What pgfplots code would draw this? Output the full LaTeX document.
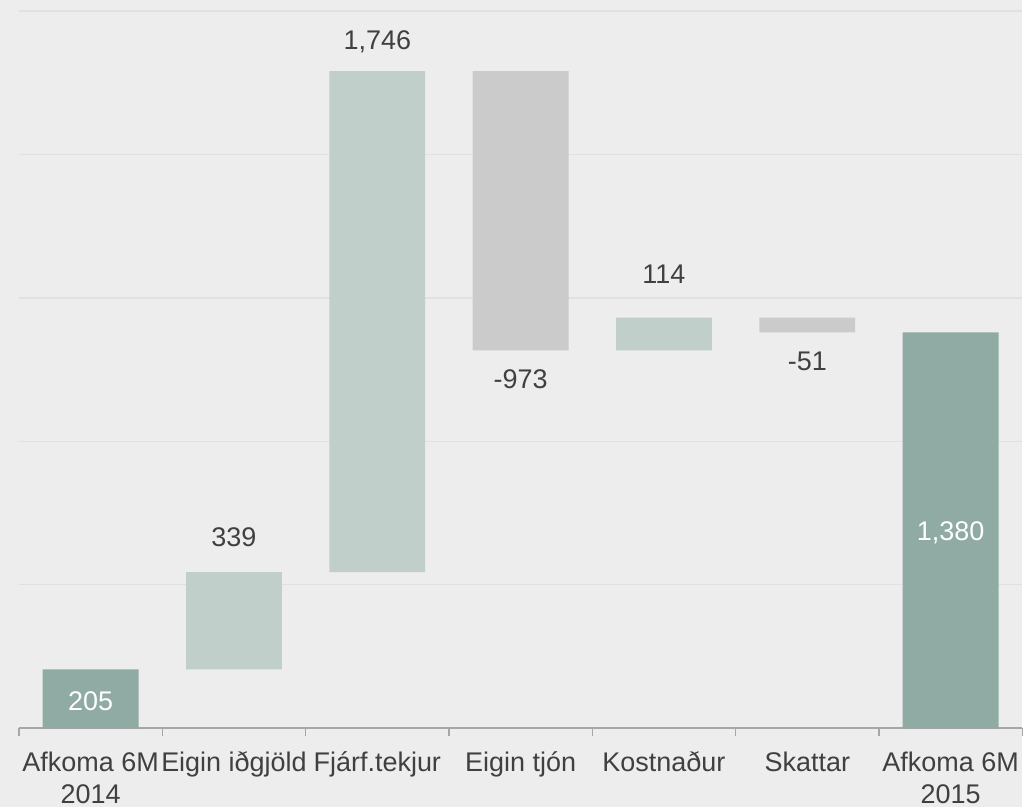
\documentclass[border=0pt]{standalone}
\usepackage{pgfplots}
\pgfplotsset{compat=1.18}
\usepackage{fontspec}
\setmainfont{Liberation Sans}
\definecolor{bg}{HTML}{EDEDED}
\definecolor{gridc}{HTML}{E1E1E1}
\definecolor{axisc}{HTML}{A6A6A6}
\definecolor{darkbar}{HTML}{90ABA3}
\definecolor{lightbar}{HTML}{C0CFCA}
\definecolor{greybar}{HTML}{CBCBCB}
\definecolor{textc}{HTML}{404040}
\begin{document}
\begin{tikzpicture}
\fill[bg] (0,0) rectangle (767.25pt,606pt);
\begin{axis}[
  at={(14.25pt,59.25pt)}, anchor=south west,
  scale only axis, width=753.4pt, height=538.5pt,
  xmin=-0.5, xmax=6.5, ymin=0, ymax=2500,
  ybar stacked, bar width=72pt,
  axis x line*=bottom, axis y line*=left,
  x axis line style={color=axisc, line width=1.1pt},
  y axis line style={draw=none},
  ytick={0,500,...,2500}, yticklabel=\empty,
  ytick style={draw=none},
  ymajorgrids, grid style={color=gridc, line width=1.1pt},
  xtick={0,...,6},
  xticklabels={{Afkoma 6M\\2014},{Eigin iðgjöld},{Fjárf.tekjur},{Eigin tjón},{Kostnaður},{Skattar},{Afkoma 6M\\2015}},
  minor xtick={-0.5,0.5,...,6.5},
  tick align=outside,
  minor tick length=6pt, major tick length=0pt,
  xtick style={color=axisc, line width=1pt},
  xticklabel style={font=\fontsize{20.25}{24}\selectfont, text=textc, align=center, anchor=north, inner sep=0pt, yshift=-17.7pt},
  clip=false,
]
\addplot[draw=none, fill=none] coordinates {(0,0) (1,205) (2,544) (3,1317) (4,1317) (5,1380) (6,0)};
\addplot[draw=none, fill=darkbar] coordinates {(0,205) (1,0) (2,0) (3,0) (4,0) (5,0) (6,1380)};
\addplot[draw=none, fill=lightbar] coordinates {(0,0) (1,339) (2,1746) (3,0) (4,114) (5,0) (6,0)};
\addplot[draw=none, fill=greybar] coordinates {(0,0) (1,0) (2,0) (3,973) (4,0) (5,51) (6,0)};
\coordinate (l0) at (axis cs:0,63);
\coordinate (l1) at (axis cs:1,634);
\coordinate (l2) at (axis cs:2,2364);
\coordinate (l3) at (axis cs:3,1184);
\coordinate (l4) at (axis cs:4,1549);
\coordinate (l5) at (axis cs:5,1246);
\coordinate (l6) at (axis cs:6,654);
\end{axis}
\node[font=\fontsize{20.25}{24}\selectfont, anchor=base, inner sep=0pt, text=white] at (l0) {205};
\node[font=\fontsize{20.25}{24}\selectfont, anchor=base, inner sep=0pt, text=textc] at (l1) {339};
\node[font=\fontsize{20.25}{24}\selectfont, anchor=base, inner sep=0pt, text=textc] at (l2) {1,746};
\node[font=\fontsize{20.25}{24}\selectfont, anchor=base, inner sep=0pt, text=textc] at (l3) {-973};
\node[font=\fontsize{20.25}{24}\selectfont, anchor=base, inner sep=0pt, text=textc] at (l4) {114};
\node[font=\fontsize{20.25}{24}\selectfont, anchor=base, inner sep=0pt, text=textc] at (l5) {-51};
\node[font=\fontsize{20.25}{24}\selectfont, anchor=base, inner sep=0pt, text=white] at (l6) {1,380};
\end{tikzpicture}
\end{document}
